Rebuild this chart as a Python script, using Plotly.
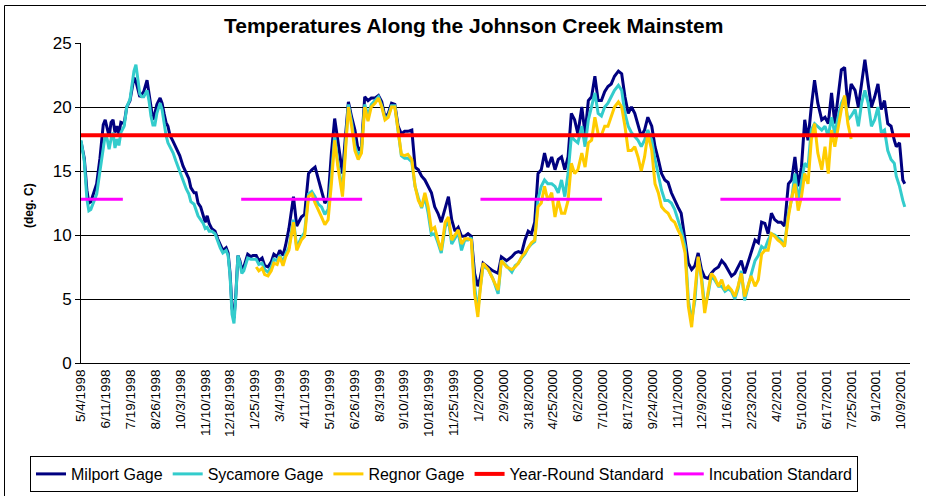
import pandas as pd
import plotly.graph_objects as go

# ---------------- data ----------------
start_date = "1998-05-04"
# day offsets from start_date of each sampled reading
days = [0, 5, 9, 12, 15, 20, 24, 29, 34, 37, 40, 43, 46, 49, 52, 55, 58, 61, 66, 70,
        75, 78, 81, 84, 87, 90, 93, 96, 101, 104, 107, 110, 113, 116, 121, 124, 127, 130, 133, 136,
        141, 145, 151, 156, 161, 165, 168, 173, 176, 179, 183, 187, 190, 193, 196, 200, 205, 209, 213, 217,
        222, 225, 228, 231, 234, 237, 240, 243, 246, 249, 252, 255, 260, 263, 268, 272, 277, 281, 286, 291,
        295, 300, 304, 309, 313, 318, 325, 330, 337, 342, 348, 353, 358, 363, 368, 373, 378, 383, 388, 393,
        400, 404, 409, 414, 419, 424, 429, 434, 439, 444, 450, 455, 460, 465, 470, 475, 480, 485, 490, 495,
        500, 506, 511, 516, 521, 526, 531, 536, 541, 546, 551, 557, 562, 567, 572, 577, 582, 587, 592, 597,
        602, 607, 610, 615, 623, 630, 638, 643, 651, 659, 664, 669, 674, 679, 684, 689, 694, 699, 704, 709,
        714, 720, 725, 730, 735, 740, 745, 750, 755, 760, 766, 771, 776, 781, 786, 791, 796, 801, 806, 811,
        816, 822, 827, 832, 837, 842, 847, 852, 857, 862, 867, 873, 878, 883, 888, 893, 898, 903, 908, 913,
        918, 924, 929, 934, 939, 944, 949, 954, 959, 964, 969, 975, 980, 985, 990, 995, 1000, 1005, 1010, 1015,
        1020, 1025, 1031, 1036, 1041, 1046, 1051, 1056, 1061, 1066, 1071, 1076, 1082, 1087, 1092, 1097, 1102, 1107, 1112, 1117,
        1122, 1127, 1133, 1138, 1143, 1148, 1153, 1158, 1163, 1168, 1173, 1178, 1184, 1189, 1194, 1199, 1204, 1209, 1214, 1219,
        1224, 1229, 1234, 1239, 1244, 1247, 1252, 1257, 1260]

milport = [17.3, 16.0, 13.5, 12.5, 12.6, 13.4, 14.0, 16.0, 18.6, 19.0, 18.3, 17.7, 18.8, 19.0, 18.0, 18.5, 17.9, 18.8, 18.7, 20.0,
           20.5, 21.5, 22.3, 22.0, 21.5, 20.8, 21.0, 21.2, 22.1, 21.0, 19.8, 19.0, 19.5, 20.2, 20.7, 20.3, 19.5, 18.8, 18.5, 17.8,
           17.3, 16.9, 16.2, 15.4, 14.8, 14.4, 13.7, 13.3, 13.3, 12.5, 12.2, 11.6, 11.0, 11.5, 10.9, 10.5, 10.3, 9.7, 9.2, 8.8,
           9.0, 8.6, 7.0, 4.3, 3.5, 5.5, 8.4, 8.0, 7.3, 7.5, 8.0, 8.5, 8.3, 8.4, 8.4, 8.0, 8.2, 7.6, 7.5, 7.9,
           8.5, 8.3, 8.8, 8.4, 9.2, 10.5, 13.0, 10.7, 11.4, 11.6, 14.8, 15.1, 15.3, 14.3, 13.3, 12.5, 12.8, 16.4, 19.1, 17.4,
           14.8, 17.4, 20.4, 19.2, 18.2, 16.6, 16.9, 20.8, 20.5, 20.7, 20.7, 20.9, 20.4, 19.2, 19.5, 20.3, 20.2, 18.5, 17.9, 18.1,
           18.1, 18.2, 15.3, 15.1, 14.6, 14.3, 13.8, 13.3, 12.2, 11.7, 11.0, 12.1, 13.0, 11.2, 10.3, 10.6, 9.9, 9.9, 10.1, 9.9,
           7.0, 6.0, 6.5, 7.8, 7.5, 7.2, 7.0, 8.3, 8.0, 8.3, 8.6, 8.7, 8.6, 9.6, 10.3, 10.1, 11.0, 14.8, 15.1, 16.4,
           15.3, 16.1, 15.1, 15.9, 16.1, 15.1, 16.1, 19.5, 19.0, 17.9, 20.0, 17.9, 20.5, 20.8, 22.4, 20.5, 20.5, 21.2, 21.6, 21.8,
           22.4, 22.8, 22.6, 20.8, 19.5, 20.0, 19.5, 18.5, 17.7, 18.2, 19.2, 18.5, 16.9, 15.9, 14.8, 14.3, 14.1, 13.3, 12.7, 12.2,
           11.7, 9.6, 7.8, 7.3, 7.6, 8.6, 7.3, 6.7, 6.6, 7.0, 7.3, 7.5, 8.0, 7.7, 7.2, 6.8, 7.0, 7.5, 8.0, 7.0,
           7.8, 8.6, 9.6, 9.4, 11.0, 10.9, 10.1, 11.7, 11.2, 11.0, 11.0, 10.7, 14.0, 14.3, 16.1, 13.8, 15.3, 19.0, 17.4, 20.0,
           22.1, 20.3, 19.0, 19.2, 18.7, 21.1, 18.7, 20.8, 22.9, 23.1, 20.0, 21.8, 21.3, 20.0, 21.8, 23.7, 21.8, 20.0, 20.8, 21.8,
           19.8, 20.5, 18.7, 18.5, 17.4, 16.9, 17.2, 14.3, 14.0]

sycamore = [17.4, 15.8, 12.8, 11.9, 12.0, 12.6, 13.2, 15.0, 17.0, 17.8, 17.5, 16.7, 17.5, 18.0, 16.8, 17.5, 17.0, 18.0, 18.5, 20.0,
            20.6, 21.8, 22.8, 23.3, 22.3, 21.0, 20.8, 20.8, 21.3, 20.5, 19.3, 18.6, 18.6, 19.5, 20.3, 19.8, 18.8, 17.8, 17.2, 16.9,
            16.4, 15.8, 15.0, 14.2, 13.6, 13.2, 12.6, 12.4, 12.0, 11.5, 11.2, 10.9, 10.5, 10.6, 10.3, 10.3, 10.1, 9.5, 9.0, 8.6,
            8.8, 8.4, 6.8, 3.8, 3.1, 5.3, 8.4, 7.8, 7.0, 7.2, 7.7, 8.2, 8.1, 8.1, 8.1, 7.7, 7.8, 7.3, 7.1, 7.5,
            8.1, 8.0, 8.4, 7.9, 8.5, 9.0, 11.2, 9.0, 9.8, 10.2, 13.2, 13.4, 13.0, 12.4, 12.2, 11.6, 12.0, 14.6, 17.8, 15.6,
            13.4, 16.5, 20.2, 18.8, 17.0, 16.2, 16.6, 20.2, 19.3, 20.2, 20.5, 20.8, 20.1, 19.1, 19.3, 20.1, 20.1, 18.3, 16.2, 16.0,
            16.0, 15.7, 13.8, 12.9, 12.1, 13.0, 11.7, 10.0, 10.1, 9.4, 8.6, 10.6, 11.2, 9.3, 9.8, 10.2, 8.8, 9.6, 9.6, 9.8,
            6.0, 4.0, 5.6, 7.6, 7.3, 6.6, 5.4, 8.0, 7.6, 7.1, 7.6, 7.8, 8.2, 8.5, 9.0, 9.3, 9.5, 12.8, 13.8, 14.3,
            14.0, 14.0, 13.8, 13.3, 14.3, 13.0, 14.8, 17.7, 17.4, 17.2, 18.5, 16.9, 19.0, 20.0, 21.1, 19.5, 19.3, 20.0, 20.3, 20.8,
            21.3, 21.7, 21.3, 19.5, 18.5, 18.0, 17.7, 17.4, 16.9, 17.4, 18.2, 17.4, 15.9, 14.8, 13.5, 12.7, 12.7, 12.5, 12.0, 11.2,
            10.4, 9.1, 4.9, 3.3, 4.9, 8.2, 6.8, 4.4, 5.3, 6.8, 6.5, 6.0, 6.0, 5.6, 5.8, 5.6, 5.0, 5.8, 7.2, 4.9,
            6.0, 6.9, 8.0, 8.4, 9.1, 8.9, 9.6, 10.1, 10.0, 9.8, 9.6, 9.1, 11.7, 12.8, 14.8, 12.7, 14.3, 15.6, 15.3, 18.2,
            18.7, 18.5, 18.2, 18.5, 17.7, 19.2, 17.9, 19.2, 20.3, 20.8, 19.0, 19.3, 19.8, 18.5, 20.3, 21.3, 20.3, 18.5, 19.0, 20.0,
            18.0, 18.2, 16.6, 15.9, 15.6, 14.6, 13.8, 12.7, 12.2]

regnor = [None] * 74 + [
          7.5, 7.2, 7.4, 6.9, 6.8, 7.2,
          7.8, 7.7, 8.3, 7.6, 8.3, 8.8, 11.0, 8.8, 9.6, 9.9, 13.0, 13.2, 12.5, 12.0, 11.4, 10.8, 11.2, 14.0, 17.4, 15.3,
          13.0, 16.1, 20.0, 18.5, 16.6, 15.9, 16.4, 20.0, 18.9, 20.0, 20.3, 20.7, 20.0, 19.0, 19.2, 20.0, 20.0, 18.2, 16.3, 16.2,
          16.3, 15.9, 13.8, 12.7, 12.2, 13.3, 12.2, 10.4, 10.6, 9.6, 8.8, 11.0, 11.4, 9.6, 10.0, 10.4, 9.3, 9.7, 9.7, 9.6,
          5.4, 3.6, 5.4, 7.8, 7.3, 6.5, 5.7, 8.0, 7.5, 7.3, 7.5, 7.8, 8.3, 8.6, 9.0, 9.4, 9.6, 12.2, 12.5, 13.8,
          12.7, 13.3, 11.4, 12.7, 11.7, 11.7, 12.7, 15.6, 14.8, 15.1, 16.4, 15.3, 17.2, 17.4, 19.2, 17.9, 17.8, 18.5, 18.5, 19.2,
          20.0, 20.4, 20.0, 18.5, 16.6, 16.6, 16.9, 16.1, 15.0, 16.1, 17.9, 16.6, 14.0, 13.3, 12.2, 11.9, 11.7, 11.2, 11.0, 10.4,
          9.9, 8.6, 4.4, 2.8, 5.5, 8.3, 6.5, 3.9, 5.5, 7.0, 6.7, 6.0, 6.5, 5.7, 6.0, 5.7, 5.2, 6.0, 7.0, 5.2,
          6.0, 6.8, 6.0, 6.5, 8.5, 8.8, 8.8, 10.1, 9.9, 9.6, 9.4, 9.1, 11.4, 12.9, 14.0, 11.9, 13.0, 14.8, 14.0, 17.4,
          18.7, 16.4, 15.1, 16.9, 14.8, 18.2, 16.9, 18.5, 19.8, 20.9, 18.7, 17.5] + [None] * 17

year_round_standard = 17.8
year_round_dates = ["1998-05-04", "2001-10-23"]
incubation_standard = 12.8
incubation_starts = ["1998-05-04", "1999-01-04", "2000-01-05", "2001-01-06"]
incubation_ends = ["1998-07-07", "1999-07-08", "2000-07-09", "2001-07-09"]

tick_labels = ["5/4/1998", "6/11/1998", "7/19/1998", "8/26/1998", "10/3/1998", "11/10/1998",
               "12/18/1998", "1/25/1999", "3/4/1999", "4/11/1999", "5/19/1999", "6/26/1999",
               "8/3/1999", "9/10/1999", "10/18/1999", "11/25/1999", "1/2/2000", "2/9/2000",
               "3/18/2000", "4/25/2000", "6/2/2000", "7/10/2000", "8/17/2000", "9/24/2000",
               "11/1/2000", "12/9/2000", "1/16/2001", "2/23/2001", "4/2/2001", "5/10/2001",
               "6/17/2001", "7/25/2001", "9/1/2001", "10/9/2001"]
y_ticks = [0, 5, 10, 15, 20, 25]

# ---------------- build ----------------
dates = pd.Timestamp(start_date) + pd.to_timedelta(days, unit="D")
tickvals = pd.to_datetime(tick_labels, format="%m/%d/%Y")

inc_x, inc_y = [], []
for s, e in zip(incubation_starts, incubation_ends):
    inc_x += [s, e, None]
    inc_y += [incubation_standard, incubation_standard, None]

FONT = "Arial, 'Liberation Sans', sans-serif"
fig = go.Figure()
fig.add_trace(go.Scatter(x=dates, y=milport, name="Milport Gage", mode="lines",
                         line=dict(color="#000080", width=3)))
fig.add_trace(go.Scatter(x=dates, y=sycamore, name="Sycamore Gage", mode="lines",
                         line=dict(color="#33CCCC", width=3)))
fig.add_trace(go.Scatter(x=dates, y=regnor, name="Regnor Gage", mode="lines",
                         line=dict(color="#FFCC00", width=3)))
fig.add_trace(go.Scatter(x=year_round_dates, y=[year_round_standard] * 2, name="Year-Round Standard",
                         mode="lines", line=dict(color="#FF0000", width=4)))
fig.add_trace(go.Scatter(x=inc_x, y=inc_y, name="Incubation Standard", mode="lines",
                         line=dict(color="#FF00FF", width=3), connectgaps=False))

W, H = 926, 496
ML, MR, MT, MB = 81, 16, 43, 133
pw, ph = W - ML - MR, H - MT - MB
def px_x(p): return (p - ML) / pw
def px_y(p): return (H - MB - p) / ph

shapes = [
    # outer chart border (top and left visible)
    dict(type="line", xref="paper", yref="paper", x0=px_x(4.5), x1=px_x(930),
         y0=px_y(5.5), y1=px_y(5.5), line=dict(color="black", width=1)),
    dict(type="line", xref="paper", yref="paper", x0=px_x(4.5), x1=px_x(4.5),
         y0=px_y(5.5), y1=px_y(500), line=dict(color="black", width=1)),
]

fig.update_layout(
    template="none",
    width=W, height=H, margin=dict(l=ML, r=MR, t=MT, b=MB, pad=0, autoexpand=False),
    paper_bgcolor="white", plot_bgcolor="white",
    font=dict(family=FONT, color="black"),
    showlegend=True,
    legend=dict(orientation="h", xref="container", yref="container",
                x=30 / W, y=1 - 456 / H, xanchor="left", yanchor="top",
                bordercolor="black", borderwidth=1, font=dict(size=16, family=FONT),
                tracegroupgap=0, itemwidth=30, bgcolor="white"),
    shapes=shapes,
    annotations=[
        dict(text="<b>Temperatures Along the Johnson Creek Mainstem</b>", xref="paper", yref="paper",
             x=px_x(473), y=px_y(26), xanchor="center", yanchor="middle", showarrow=False,
             font=dict(size=21, family=FONT)),
        dict(text="<b>(deg. C)</b>", xref="paper", yref="paper", x=px_x(29), y=px_y(206),
             xanchor="center", yanchor="middle", textangle=-90, showarrow=False,
             font=dict(size=12, family=FONT)),
    ],
)
fig.update_xaxes(type="date", range=[start_date, "2001-10-23"], tickvals=tickvals, ticktext=tick_labels,
                 tickangle=-90, ticks="", showgrid=False, zeroline=False, showline=True, automargin=False,
                 linecolor="black", linewidth=1, tickfont=dict(size=13.5, family=FONT))
fig.update_yaxes(range=[0, 25], tickvals=y_ticks, ticks="outside", ticklen=5, tickcolor="black",
                 showgrid=True, gridcolor="black", gridwidth=1,
                 zeroline=False, showline=True, linecolor="black", linewidth=1,
                 automargin=False, tickfont=dict(size=17, family=FONT))

fig.write_html("out.html", config={"displayModeBar": False},
               post_script="document.body.style.margin='0';document.body.style.padding='0';")
